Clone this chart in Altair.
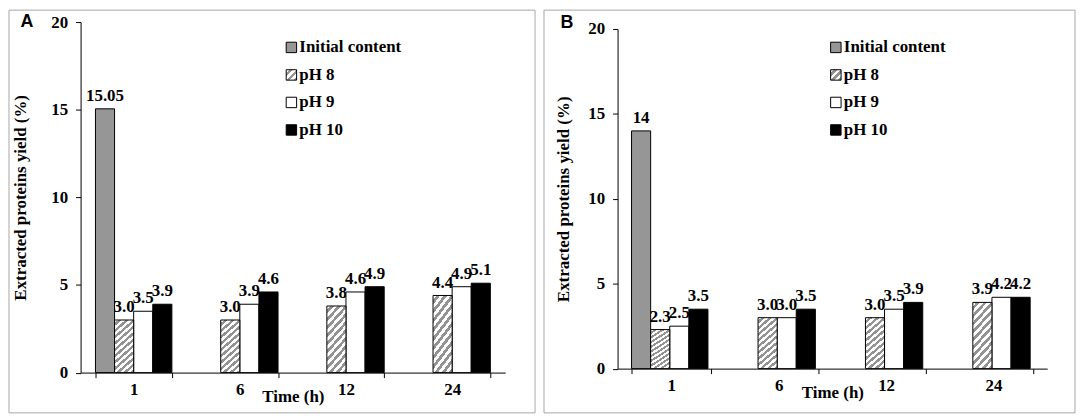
import altair as alt
import pandas as pd

# ---------------- data ----------------
times = ["1", "6", "12", "24"]
series = ["Initial content", "pH 8", "pH 9", "pH 10"]

a_initial = [15.05, None, None, None]
a_initial_label = ["15.05", "", "", ""]
a_ph8 = [3.0, 3.0, 3.8, 4.4]
a_ph9 = [3.5, 3.9, 4.6, 4.9]
a_ph10 = [3.9, 4.6, 4.9, 5.1]

b_initial = [14.0, None, None, None]
b_initial_label = ["14", "", "", ""]
b_ph8 = [2.3, 3.0, 3.0, 3.9]
b_ph9 = [2.5, 3.0, 3.5, 4.2]
b_ph10 = [3.5, 3.5, 3.9, 4.2]

y_ticks = [0, 5, 10, 15, 20]

SERIF = "Liberation Serif"
SANS = "Liberation Sans"
FS = 17


def build_table(initial, initial_label, ph8, ph9, ph10):
    rows = []
    for i, t in enumerate(times):
        if initial[i] is not None:
            rows.append(dict(time=t, series=series[0], value=initial[i], label=initial_label[i]))
        for s, arr in zip(series[1:], [ph8, ph9, ph10]):
            rows.append(dict(time=t, series=s, value=arr[i], label=f"{arr[i]:.1f}"))
    return pd.DataFrame(rows)


def stripes(n, dark, light, x2, y2):
    stops = []
    for k in range(n):
        a, m, b = k / n, (k + 0.5) / n, (k + 1) / n
        stops += [
            {"offset": a, "color": light},
            {"offset": m, "color": light},
            {"offset": m, "color": dark},
            {"offset": b, "color": dark},
        ]
    return {"gradient": "linear", "x1": 0, "y1": 0, "x2": x2, "y2": y2, "stops": stops}


bar_hatch = stripes(11, "#939393", "#ffffff", 0.383, 1.197)
legend_hatch = stripes(3, "#939393", "#ffffff", 1, 1)

solid_domain = ["Initial content", "pH 9", "pH 10"]
solid_range = ["#969696", "#ffffff", "#000000"]


def panel(df, width, height, y_top, pad_inner, border, letter, letter_pos, legend_x, legend_range, ytitle_x):
    one = pd.DataFrame({"k": [0]})
    leg = pd.DataFrame({"series": series})

    x_axis = alt.Axis(
        labelAngle=0, labelFont=SERIF, labelFontWeight="bold", labelFontSize=FS,
        labelColor="black", labelPadding=4, tickSize=5, tickColor="black",
        tickBand="extent", domainColor="black", grid=False,
        title="Time (h)", titleFont=SERIF, titleFontWeight="bold", titleFontSize=FS,
        titleColor="black", titleY=16, titleBaseline="top",
    )
    x_enc = alt.X("time:N", sort=times,
                  scale=alt.Scale(domain=times, paddingInner=pad_inner, paddingOuter=pad_inner / 2),
                  axis=x_axis)
    xo_enc = alt.XOffset("series:N", sort=series,
                         scale=alt.Scale(domain=series, paddingInner=0, paddingOuter=0))
    y_scale = alt.Scale(domain=[0, 20], nice=False, zero=True, range=[height, y_top])
    y_axis = alt.Axis(
        values=y_ticks, labelFont=SERIF, labelFontWeight="bold", labelFontSize=FS,
        labelColor="black", labelPadding=8, tickSize=5, tickColor="black",
        domainColor="black", grid=False,
        title="Extracted proteins yield (%)", titleFont=SERIF, titleFontWeight="bold",
        titleFontSize=FS, titleColor="black", titleX=ytitle_x, titleBaseline="middle",
    )

    base = alt.Chart(df)

    border_layer = alt.Chart(one).mark_rect(fillOpacity=0, stroke="#a6a6a6", strokeWidth=1).encode(
        x=alt.value(border[0]), x2=alt.value(border[1]),
        y=alt.value(border[2]), y2=alt.value(border[3]),
    )
    letter_layer = alt.Chart(one).mark_text(
        font=SANS, fontWeight="bold", fontSize=18, align="center", baseline="middle", color="black"
    ).encode(x=alt.value(letter_pos[0]), y=alt.value(letter_pos[1]), text=alt.value(letter))

    labels = base.mark_text(
        font=SERIF, fontWeight="bold", fontSize=FS, baseline="alphabetic", dy=-8, color="black"
    ).encode(
        x=x_enc, xOffset=xo_enc,
        y=alt.Y("value:Q", scale=y_scale, axis=None),
        text="label:N",
    )

    solid = base.transform_filter(alt.datum.series != "pH 8").mark_bar(
        stroke="black", strokeWidth=1
    ).encode(
        x=x_enc, xOffset=xo_enc,
        y=alt.Y("value:Q", scale=y_scale, axis=y_axis),
        fill=alt.Fill("series:N", scale=alt.Scale(domain=solid_domain, range=solid_range), legend=None),
    )

    hatched = base.transform_filter(alt.datum.series == "pH 8").mark_bar(
        fill=bar_hatch, stroke="black", strokeWidth=1
    ).encode(
        x=x_enc, xOffset=xo_enc,
        y=alt.Y("value:Q", scale=y_scale, axis=None),
    )

    leg_y = alt.Y("series:N", scale=alt.Scale(type="point", domain=series, range=legend_range, padding=0), axis=None)

    leg_solid = alt.Chart(leg).transform_filter(alt.datum.series != "pH 8").mark_square(
        size=110, stroke="black", strokeWidth=1, opacity=1
    ).encode(
        x=alt.value(legend_x), y=leg_y,
        fill=alt.Fill("series:N", scale=alt.Scale(domain=solid_domain, range=solid_range), legend=None),
    )
    leg_hatch = alt.Chart(leg).transform_filter(alt.datum.series == "pH 8").mark_square(
        size=110, fill=legend_hatch, stroke="black", strokeWidth=1, opacity=1
    ).encode(x=alt.value(legend_x), y=leg_y)
    leg_text = alt.Chart(leg).mark_text(
        font=SERIF, fontWeight="bold", fontSize=FS, align="left", baseline="middle", color="black"
    ).encode(x=alt.value(legend_x + 8), y=leg_y, text="series:N")

    return alt.layer(
        border_layer, letter_layer, labels, solid, hatched, leg_solid, leg_hatch, leg_text
    ).resolve_scale(y="independent").properties(width=width, height=height)


df_a = build_table(a_initial, a_initial_label, a_ph8, a_ph9, a_ph10)
df_b = build_table(b_initial, b_initial_label, b_ph8, b_ph9, b_ph10)

panel_a = panel(df_a, 427, 352.5, 0, 0.28, (-72, 457, -12, 393), "A", (-54, 0), 212, [25.5, 108.5], -60)
panel_b = panel(df_b, 432, 348.5, 7, 0.26, (-74, 460, -12, 393), "B", (-51, 1), 219.5, [25.5, 108.5], -54)

chart = alt.concat(panel_a, panel_b, columns=2, spacing=7, align="none").properties(
    padding=0
).configure_view(stroke=None)

chart.save("out.html", embed_options={"renderer": "svg", "actions": False})
